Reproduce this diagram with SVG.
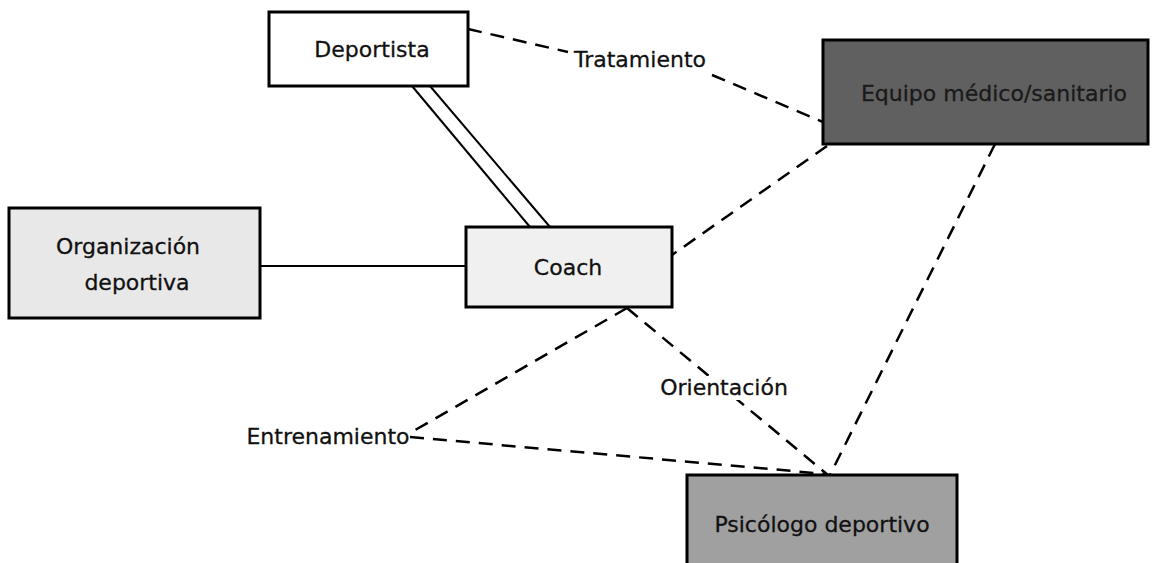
<svg xmlns="http://www.w3.org/2000/svg" width="1156" height="563" viewBox="0 0 1156 563">
  <style>
    .box { stroke: #000; stroke-width: 3; }
    .lbl { font-family: "Comic Sans MS", "DejaVu Sans", sans-serif; font-size: 22px; fill: #111; stroke: #111; stroke-width: 0.3; text-anchor: middle; dominant-baseline: central; }
    .solid { stroke: #000; stroke-width: 2; fill: none; }
    .dash { stroke: #000; stroke-width: 2.5; fill: none; stroke-dasharray: 14 9; }
  </style>
  <rect width="1156" height="563" fill="#fff"/>

  <g id="connectors">
    <!-- double line Deportista - Coach -->
    <line class="solid" x1="412" y1="86" x2="530" y2="227"/>
    <line class="solid" x1="430" y1="86" x2="550" y2="227"/>
    <!-- Organización - Coach -->
    <line class="solid" x1="260" y1="266" x2="466" y2="266"/>
    <!-- Tratamiento: Deportista - Equipo -->
    <path class="dash" d="M468,29 L568,52"/>
    <path class="dash" d="M712,75 L823,122"/>
    <!-- Equipo - Coach -->
    <path class="dash" d="M827,146 L672,255"/>
    <!-- Equipo - Psicólogo -->
    <path class="dash" d="M995,144 L830,475"/>
    <!-- Coach - Entrenamiento -->
    <path class="dash" d="M627,308 L410,433"/>
    <!-- Coach - Psicólogo (Orientación) -->
    <path class="dash" d="M627,308 L828,475"/>
    <!-- Entrenamiento - Psicólogo -->
    <path class="dash" d="M410,437 L826,474"/>
    <rect x="660" y="376" width="128" height="24" fill="#fff"/>
    <text class="lbl" x="640" y="59">Tratamiento</text>
    <text class="lbl" x="724" y="387">Orientación</text>
    <text class="lbl" x="328" y="436">Entrenamiento</text>
  </g>

  <g id="deportista">
    <rect class="box" x="269" y="12" width="199" height="74" fill="#fff"/>
    <text class="lbl" x="372" y="49">Deportista</text>
  </g>

  <g id="equipo">
    <rect class="box" x="823" y="40" width="325" height="104" fill="#606060"/>
    <text class="lbl" x="994" y="93" style="fill:#1a1a1a;stroke:#1a1a1a">Equipo médico/sanitario</text>
  </g>

  <g id="organizacion">
    <rect class="box" x="9" y="208" width="251" height="110" fill="#e8e8e8"/>
    <text class="lbl" x="128" y="246">Organización</text>
    <text class="lbl" x="137" y="282">deportiva</text>
  </g>

  <g id="coach">
    <rect class="box" x="466" y="227" width="206" height="80" fill="#f0f0f0"/>
    <text class="lbl" x="568" y="267">Coach</text>
  </g>

  <g id="psicologo">
    <rect class="box" x="687" y="475" width="270" height="100" fill="#a0a0a0"/>
    <text class="lbl" x="822" y="524">Psicólogo deportivo</text>
  </g>
</svg>
